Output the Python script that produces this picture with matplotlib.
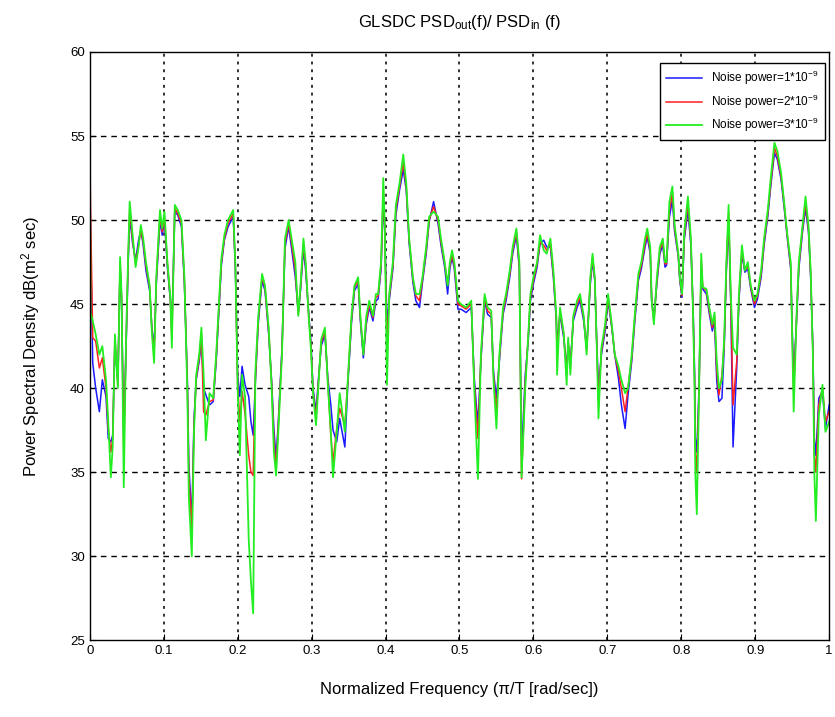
import matplotlib
matplotlib.use("Agg")
import matplotlib.pyplot as plt
from matplotlib import font_manager

# ---------------- data ----------------
freq = [0.000, 0.001, 0.004, 0.008, 0.013, 0.017, 0.022, 0.025, 0.0285, 0.031,
        0.034, 0.038, 0.041, 0.043, 0.046, 0.049, 0.052, 0.054, 0.058, 0.062,
        0.066, 0.069, 0.072, 0.076, 0.081, 0.084, 0.087, 0.090, 0.095, 0.098,
        0.101, 0.105, 0.109, 0.111, 0.115, 0.119, 0.124, 0.128, 0.132, 0.134,
        0.138, 0.141, 0.144, 0.148, 0.151, 0.154, 0.157, 0.162, 0.167, 0.171,
        0.175, 0.178, 0.182, 0.187, 0.194, 0.197, 0.200, 0.203, 0.206, 0.210,
        0.215, 0.218, 0.221, 0.224, 0.228, 0.233, 0.237, 0.242, 0.246, 0.249,
        0.252, 0.255, 0.260, 0.264, 0.269, 0.273, 0.278, 0.282, 0.285, 0.289,
        0.292, 0.296, 0.299, 0.302, 0.306, 0.309, 0.313, 0.318, 0.322, 0.326,
        0.329, 0.334, 0.338, 0.345, 0.349, 0.354, 0.358, 0.363, 0.366, 0.370,
        0.374, 0.378, 0.383, 0.387, 0.390, 0.394, 0.397, 0.399, 0.402, 0.405,
        0.410, 0.414, 0.419, 0.424, 0.428, 0.432, 0.437, 0.441, 0.446, 0.450,
        0.455, 0.459, 0.465, 0.471, 0.475, 0.480, 0.484, 0.487, 0.490, 0.493,
        0.498, 0.502, 0.509, 0.516, 0.520, 0.525, 0.529, 0.534, 0.538, 0.543,
        0.546, 0.550, 0.554, 0.559, 0.563, 0.568, 0.572, 0.577, 0.581, 0.584,
        0.589, 0.593, 0.596, 0.600, 0.605, 0.609, 0.614, 0.618, 0.623, 0.627,
        0.631, 0.632, 0.636, 0.641, 0.645, 0.647, 0.650, 0.654, 0.659, 0.663,
        0.668, 0.672, 0.677, 0.680, 0.683, 0.686, 0.688, 0.692, 0.697, 0.701,
        0.706, 0.710, 0.715, 0.719, 0.724, 0.728, 0.733, 0.737, 0.742, 0.746,
        0.751, 0.754, 0.758, 0.760, 0.763, 0.767, 0.771, 0.775, 0.778, 0.780,
        0.784, 0.788, 0.791, 0.796, 0.798, 0.801, 0.804, 0.809, 0.813, 0.816,
        0.818, 0.819, 0.821, 0.824, 0.827, 0.829, 0.834, 0.838, 0.842, 0.845,
        0.848, 0.851, 0.855, 0.858, 0.861, 0.864, 0.867, 0.870, 0.875, 0.878,
        0.882, 0.886, 0.890, 0.894, 0.899, 0.903, 0.908, 0.912, 0.917, 0.921,
        0.926, 0.930, 0.935, 0.939, 0.943, 0.948, 0.950, 0.952, 0.956, 0.959,
        0.964, 0.968, 0.972, 0.975, 0.978, 0.980, 0.982, 0.986, 0.991, 0.995,
        1.000]

psd_n3 = [57.5, 44.5, 44.0, 43.2, 42.0, 42.5, 40.5, 38.0, 34.7, 36.5,
          43.2, 40.0, 47.8, 45.6, 34.1, 42.7, 48.0, 51.1, 49.1, 47.2,
          48.4, 49.7, 49.0, 47.5, 46.1, 43.3, 41.5, 46.6, 50.6, 49.5,
          50.5, 47.5, 45.4, 42.4, 50.9, 50.6, 50.0, 46.6, 39.7, 33.5,
          30.0, 37.4, 40.8, 42.0, 43.6, 40.8, 36.9, 39.7, 39.4, 42.0,
          45.2, 47.7, 49.1, 50.0, 50.6, 47.3, 40.0, 36.0, 40.8, 39.5,
          31.0, 28.5, 26.6, 41.0, 44.3, 46.8, 46.1, 43.6, 40.0, 36.2,
          34.8, 37.4, 42.0, 48.9, 50.0, 48.9, 47.5, 44.3, 46.1, 48.9,
          47.5, 44.3, 42.4, 39.7, 37.8, 40.0, 42.9, 43.6, 40.2, 37.4,
          34.7, 37.4, 39.7, 37.4, 40.5, 44.3, 46.1, 46.6, 44.3, 42.0,
          44.3, 45.2, 44.3, 45.6, 45.6, 47.5, 52.5, 49.7, 40.2, 45.6,
          47.5, 50.9, 52.2, 53.9, 52.2, 48.9, 46.6, 45.6, 45.6, 46.6,
          48.4, 50.2, 50.5, 50.2, 48.9, 47.5, 46.1, 47.5, 48.2, 47.5,
          45.2, 45.0, 44.8, 45.2, 40.0, 34.6, 42.0, 45.6, 44.8, 44.6,
          40.5, 37.6, 42.0, 44.8, 45.6, 47.0, 48.4, 49.5, 47.5, 34.7,
          40.0, 43.1, 45.6, 46.6, 47.5, 49.1, 48.2, 48.0, 48.9, 47.0,
          44.3, 40.8, 44.8, 43.3, 40.2, 43.0, 40.8, 44.3, 45.2, 45.6,
          44.3, 42.0, 46.6, 48.0, 46.6, 42.0, 38.2, 42.4, 43.8, 45.6,
          43.8, 42.0, 41.3, 40.5, 39.7, 40.0, 42.0, 44.3, 46.8, 47.5,
          48.9, 49.5, 48.4, 45.2, 43.8, 46.6, 48.4, 48.9, 47.5, 47.5,
          51.1, 52.0, 49.7, 48.0, 46.6, 45.6, 49.3, 51.4, 48.9, 44.3,
          40.0, 34.9, 32.5, 39.7, 48.0, 46.0, 45.9, 44.8, 43.8, 44.5,
          41.6, 40.0, 40.5, 42.9, 47.5, 50.9, 45.5, 42.4, 42.0, 45.6,
          48.5, 47.0, 47.5, 46.1, 45.2, 45.6, 47.0, 48.9, 50.6, 52.5,
          54.6, 54.1, 52.8, 51.1, 49.3, 47.5, 42.9, 38.6, 44.5, 47.5,
          49.7, 51.4, 49.7, 47.0, 42.0, 34.9, 32.1, 38.4, 40.2, 37.4,
          38.0]

psd_n2 = [55.2, 50.8, 43.0, 42.8, 41.2, 41.8, 40.0, 37.6, 36.2, 37.0,
          43.0, 40.2, 47.5, 45.4, 36.2, 42.5, 47.8, 50.6, 48.8, 47.4,
          48.5, 49.4, 48.8, 47.3, 46.0, 43.5, 42.0, 46.4, 50.3, 49.3,
          50.2, 47.4, 45.3, 43.0, 50.7, 50.4, 49.8, 46.4, 40.2, 34.8,
          31.5, 37.8, 40.6, 41.8, 43.2, 38.6, 38.4, 39.2, 39.3, 41.8,
          45.0, 47.5, 48.9, 49.8, 50.4, 47.2, 40.2, 38.0, 39.8, 38.5,
          36.0, 35.0, 34.8, 40.6, 44.1, 46.6, 46.0, 43.4, 40.2, 37.0,
          35.2, 37.8, 42.2, 48.6, 49.8, 48.6, 47.0, 44.4, 46.0, 48.6,
          47.3, 44.4, 42.6, 39.8, 38.2, 40.2, 42.7, 43.4, 40.4, 37.2,
          35.6, 37.6, 38.8, 37.8, 40.4, 44.1, 46.0, 46.4, 44.2, 42.0,
          44.0, 45.0, 44.2, 45.4, 45.5, 47.3, 51.8, 49.4, 42.5, 45.4,
          47.3, 50.6, 52.0, 53.4, 52.0, 48.8, 46.5, 45.5, 45.2, 46.5,
          48.2, 50.0, 50.8, 50.0, 48.7, 47.4, 46.2, 47.3, 47.9, 47.3,
          45.0, 44.9, 44.7, 45.0, 40.3, 37.0, 41.8, 45.4, 44.6, 44.4,
          40.8, 38.6, 41.8, 44.6, 45.4, 46.8, 48.2, 49.3, 47.3, 34.6,
          40.4, 43.0, 45.4, 46.4, 47.4, 48.7, 48.5, 48.2, 48.6, 46.8,
          44.2, 42.0, 44.6, 43.2, 40.8, 42.8, 41.2, 44.2, 45.0, 45.4,
          44.2, 42.2, 46.4, 47.8, 46.5, 42.2, 39.2, 42.2, 43.6, 45.4,
          43.7, 42.0, 41.0, 40.0, 38.6, 40.0, 41.8, 44.1, 46.6, 47.3,
          48.6, 49.2, 48.2, 45.2, 44.0, 46.4, 48.2, 48.7, 47.4, 47.4,
          50.6, 51.6, 49.5, 47.9, 46.5, 45.5, 49.0, 51.0, 48.7, 44.5,
          40.5, 36.2, 35.0, 39.8, 47.6, 46.0, 45.8, 44.6, 43.6, 44.3,
          41.0, 39.6, 40.8, 42.6, 47.2, 50.4, 45.2, 39.0, 41.6, 45.4,
          48.2, 47.0, 47.3, 46.0, 45.0, 45.5, 46.8, 48.7, 50.4, 52.2,
          54.3, 53.8, 52.6, 51.0, 49.2, 47.3, 43.2, 39.8, 44.3, 47.3,
          49.5, 51.0, 49.5, 46.8, 42.2, 36.0, 35.0, 39.0, 40.0, 38.0,
          38.6]

psd_n1 = [53.5, 49.0, 41.5, 40.0, 38.6, 40.5, 39.5, 37.0, 36.8, 37.2,
          42.6, 40.4, 47.2, 45.2, 37.2, 42.2, 47.5, 50.2, 48.6, 47.6,
          48.8, 49.4, 48.6, 47.0, 45.8, 43.6, 42.4, 46.2, 50.0, 49.1,
          50.0, 47.2, 45.2, 43.5, 50.5, 50.3, 49.6, 46.2, 40.5, 35.5,
          32.0, 38.2, 40.5, 41.6, 42.8, 40.0, 39.6, 39.0, 39.2, 41.6,
          44.8, 47.3, 48.8, 49.6, 50.2, 47.0, 40.8, 39.5, 41.3, 40.2,
          39.5, 38.0, 37.2, 40.4, 43.9, 46.4, 45.8, 43.2, 40.4, 37.6,
          35.8, 38.0, 42.4, 48.3, 49.6, 48.3, 46.6, 44.5, 45.8, 48.3,
          47.0, 44.5, 42.8, 40.0, 38.6, 40.4, 42.5, 43.2, 40.6, 39.0,
          37.5, 36.8, 38.2, 36.5, 40.2, 43.9, 45.8, 46.2, 44.0, 41.8,
          43.8, 44.8, 44.0, 45.2, 45.3, 47.1, 51.4, 49.2, 43.8, 45.2,
          47.1, 50.3, 51.8, 53.0, 51.8, 48.6, 46.3, 45.2, 44.8, 46.3,
          48.0, 49.9, 51.1, 49.8, 48.5, 47.2, 45.6, 47.1, 47.8, 47.1,
          44.7, 44.7, 44.5, 44.8, 40.6, 37.8, 41.6, 45.2, 44.4, 44.2,
          41.0, 39.4, 41.6, 44.4, 45.2, 46.6, 48.0, 49.1, 47.1, 36.0,
          40.8, 42.8, 45.2, 46.2, 47.2, 48.6, 48.8, 48.4, 48.4, 46.6,
          44.0, 42.6, 44.4, 43.0, 41.2, 42.6, 41.5, 44.0, 44.8, 45.2,
          44.0, 42.4, 46.2, 47.6, 46.4, 42.4, 40.0, 42.0, 43.4, 45.2,
          43.6, 42.0, 40.6, 39.0, 37.6, 39.6, 41.6, 43.9, 46.4, 47.1,
          48.4, 49.0, 48.0, 45.2, 44.2, 46.2, 48.0, 48.5, 47.2, 47.3,
          50.2, 51.2, 49.3, 47.8, 46.4, 45.4, 48.8, 50.6, 48.5, 44.7,
          41.0, 37.0, 36.2, 40.0, 47.2, 45.9, 45.6, 44.4, 43.4, 44.0,
          40.4, 39.2, 39.4, 42.3, 47.0, 49.9, 45.0, 36.5, 41.2, 45.2,
          48.0, 46.9, 47.1, 45.9, 44.8, 45.3, 46.6, 48.5, 50.2, 52.0,
          54.0, 53.6, 52.4, 50.8, 49.1, 47.1, 43.6, 40.6, 44.1, 47.1,
          49.3, 50.7, 49.3, 46.6, 42.4, 37.0, 36.0, 39.4, 39.8, 37.6,
          39.0]

labels = ["Noise power=1*10$^{-9}$", "Noise power=2*10$^{-9}$", "Noise power=3*10$^{-9}$"]
colors = ["#1a1aff", "#ff2020", "#22ee22"]
xticks = [0, 0.1, 0.2, 0.3, 0.4, 0.5, 0.6, 0.7, 0.8, 0.9, 1]
xticklabels = ["0", "0.1", "0.2", "0.3", "0.4", "0.5", "0.6", "0.7", "0.8", "0.9", "1"]
yticks = [25, 30, 35, 40, 45, 50, 55, 60]

# ---------------- style ----------------
avail = {f.name for f in font_manager.fontManager.ttflist}
fam = [f for f in ["Liberation Sans Narrow", "Liberation Sans", "DejaVu Sans"] if f in avail]
plt.rcParams["font.family"] = fam
plt.rcParams["mathtext.fontset"] = "custom"
plt.rcParams["mathtext.rm"] = fam[0]
plt.rcParams["mathtext.it"] = fam[0]

fig = plt.figure(figsize=(8.35, 7.17), dpi=100)
ax = fig.add_axes([0.1075, 0.107, 0.8855, 0.8205])

for y, c, lab, lw in zip([psd_n1, psd_n2, psd_n3], colors, labels, [1.1, 1.1, 1.3]):
    ax.plot(freq, y, color=c, lw=lw, label=lab)

ax.set_xlim(0, 1)
ax.set_ylim(25, 60)
ax.set_xticks(xticks)
ax.set_xticklabels(xticklabels)
ax.set_yticks(yticks)
ax.tick_params(direction="in", length=4, labelsize=9.5, width=0.8)

for xv in xticks[1:-1]:
    ax.axvline(xv, color="#333333", lw=1.4, linestyle=(0, (1.5, 2.5)), zorder=0.5)
for yv in yticks[1:-1]:
    ax.axhline(yv, color="black", lw=1.0, linestyle=(0, (4, 3.5)), zorder=0.5)

for s in ax.spines.values():
    s.set_linewidth(1.0)

ax.set_title("GLSDC PSD$_{out}$(f)/ PSD$_{in}$ (f)", fontsize=12, pad=18)
ax.set_xlabel("Normalized Frequency (\u03c0/T [rad/sec])", fontsize=12, labelpad=18)
ax.set_ylabel("Power Spectral Density dB(m$^{2}$ sec)", fontsize=12, labelpad=20)

leg = ax.legend(loc="upper right", bbox_to_anchor=(0.997, 0.985), fontsize=8.5,
                frameon=True, fancybox=False, edgecolor="black", framealpha=1,
                handlelength=3.0, borderpad=0.5, labelspacing=0.45, borderaxespad=0.2)
leg.get_frame().set_linewidth(1.0)

fig.savefig("out.png", dpi=100)
